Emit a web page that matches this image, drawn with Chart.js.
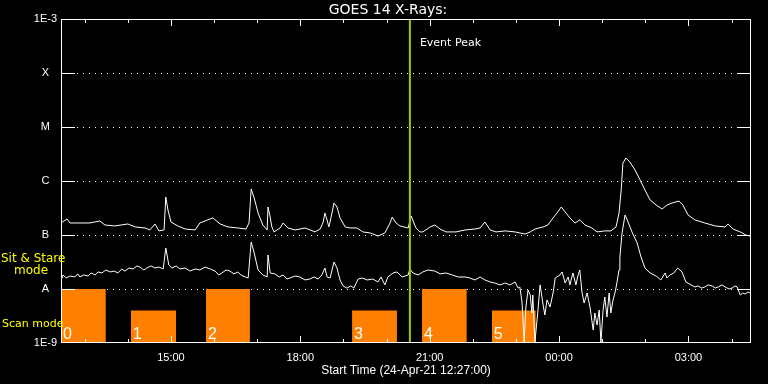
<!DOCTYPE html>
<html>
<head>
<meta charset="utf-8">
<title>GOES 14 X-Rays</title>
<script src="https://cdn.jsdelivr.net/npm/chart.js@4.4.1/dist/chart.umd.min.js"></script>
<style>
  html, body { margin: 0; padding: 0; background: #000; }
  canvas { display: block; }
</style>
</head>
<body>
<canvas id="goesChart" width="768" height="384"></canvas>
<script>
// times are hours since 24-Apr-21 00:00 (past 24 = next day), flux in W/m^2

// long channel (1-8 A), upper curve
const longTimes = [12.45, 12.59, 12.66, 12.89, 13.12, 13.35, 13.47, 13.70, 14.00, 14.17, 14.40, 14.51, 14.63, 14.72, 14.84, 14.88, 14.93, 15.00, 15.16, 15.33, 15.56, 15.67, 15.79, 15.97, 16.14, 16.32, 16.55, 16.74, 16.81, 16.86, 16.93, 17.02, 17.13, 17.23, 17.25, 17.30, 17.34, 17.39, 17.53, 17.60, 17.71, 17.88, 18.11, 18.34, 18.46, 18.53, 18.57, 18.62, 18.66, 18.71, 18.78, 18.85, 18.92, 19.04, 19.15, 19.31, 19.45, 19.62, 19.80, 19.96, 20.08, 20.13, 20.22, 20.31, 20.50, 20.57, 20.68, 20.77, 20.84, 21.01, 21.12, 21.24, 21.38, 21.61, 21.82, 22.05, 22.17, 22.28, 22.40, 22.54, 22.75, 22.98, 23.21, 23.33, 23.44, 23.63, 23.74, 23.86, 23.95, 24.05, 24.14, 24.25, 24.37, 24.48, 24.60, 24.76, 24.88, 25.06, 25.20, 25.32, 25.39, 25.44, 25.48, 25.55, 25.64, 25.76, 25.88, 25.99, 26.11, 26.25, 26.39, 26.50, 26.62, 26.78, 26.87, 26.99, 27.15, 27.38, 27.62, 27.85, 27.92, 28.03, 28.20, 28.33, 28.43];
const longFlux = [1.67e-7, 1.98e-7, 1.67e-7, 1.67e-7, 1.67e-7, 1.82e-7, 1.53e-7, 1.47e-7, 1.60e-7, 1.41e-7, 1.35e-7, 1.24e-7, 1.60e-7, 1.19e-7, 1.24e-7, 5.05e-7, 2.90e-7, 1.74e-7, 1.47e-7, 1.29e-7, 1.24e-7, 1.67e-7, 1.82e-7, 2.07e-7, 1.60e-7, 1.41e-7, 1.35e-7, 1.29e-7, 1.67e-7, 7.11e-7, 4.84e-7, 2.55e-7, 1.53e-7, 1.24e-7, 3.30e-7, 2.15e-7, 1.41e-7, 1.14e-7, 1.35e-7, 1.67e-7, 1.35e-7, 1.24e-7, 1.35e-7, 1.14e-7, 1.29e-7, 1.74e-7, 2.55e-7, 1.90e-7, 1.41e-7, 2.07e-7, 3.91e-7, 3.30e-7, 2.07e-7, 1.41e-7, 1.35e-7, 1.35e-7, 1.14e-7, 1.09e-7, 9.57e-8, 1.09e-7, 1.67e-7, 2.15e-7, 1.67e-7, 1.47e-7, 1.35e-7, 2.25e-7, 1.35e-7, 1.14e-7, 1.14e-7, 1.41e-7, 1.53e-7, 1.29e-7, 1.14e-7, 1.14e-7, 1.24e-7, 1.29e-7, 1.35e-7, 1.74e-7, 1.24e-7, 1.14e-7, 1.19e-7, 1.14e-7, 1.04e-7, 1.14e-7, 1.29e-7, 1.41e-7, 1.53e-7, 2.07e-7, 2.55e-7, 3.30e-7, 2.67e-7, 2.07e-7, 1.67e-7, 1.90e-7, 1.53e-7, 1.35e-7, 1.14e-7, 1.19e-7, 1.19e-7, 1.41e-7, 2.55e-7, 6.81e-7, 2.15e-6, 2.67e-6, 2.25e-6, 1.60e-6, 1.04e-6, 6.81e-7, 4.45e-7, 3.59e-7, 3.03e-7, 3.59e-7, 3.91e-7, 4.26e-7, 3.59e-7, 2.35e-7, 1.90e-7, 1.67e-7, 1.47e-7, 1.41e-7, 1.60e-7, 1.29e-7, 1.14e-7, 1.00e-7, 9.57e-8];

// short channel (0.5-4 A), lower curve
const shortTimes = [12.45, 12.50, 12.57, 12.66, 12.77, 12.84, 12.89, 12.98, 13.08, 13.15, 13.24, 13.31, 13.40, 13.49, 13.59, 13.68, 13.77, 13.86, 13.93, 14.03, 14.12, 14.21, 14.28, 14.37, 14.44, 14.54, 14.63, 14.72, 14.82, 14.88, 14.95, 15.02, 15.12, 15.21, 15.33, 15.44, 15.56, 15.67, 15.79, 15.91, 16.02, 16.11, 16.18, 16.28, 16.37, 16.46, 16.55, 16.62, 16.72, 16.79, 16.86, 16.93, 17.02, 17.13, 17.23, 17.25, 17.30, 17.41, 17.51, 17.60, 17.69, 17.76, 17.88, 17.99, 18.11, 18.22, 18.32, 18.41, 18.50, 18.57, 18.62, 18.69, 18.78, 18.85, 18.92, 18.99, 19.08, 19.17, 19.24, 19.34, 19.43, 19.55, 19.68, 19.80, 19.87, 19.96, 20.03, 20.15, 20.24, 20.36, 20.50, 20.54, 20.61, 20.73, 20.84, 20.96, 21.12, 21.24, 21.38, 21.52, 21.66, 21.82, 21.93, 22.05, 22.17, 22.28, 22.40, 22.51, 22.63, 22.75, 22.86, 22.98, 23.05, 23.09, 23.14, 23.19, 23.23, 23.28, 23.33, 23.37, 23.39, 23.44, 23.51, 23.56, 23.63, 23.67, 23.72, 23.79, 23.86, 23.91, 24.02, 24.07, 24.14, 24.21, 24.25, 24.32, 24.39, 24.44, 24.48, 24.53, 24.58, 24.65, 24.72, 24.79, 24.83, 24.88, 24.93, 24.97, 25.02, 25.06, 25.11, 25.16, 25.20, 25.25, 25.30, 25.34, 25.39, 25.41, 25.46, 25.53, 25.60, 25.69, 25.81, 25.90, 25.99, 26.11, 26.25, 26.36, 26.46, 26.50, 26.57, 26.66, 26.75, 26.85, 26.94, 27.06, 27.15, 27.22, 27.31, 27.38, 27.45, 27.55, 27.62, 27.69, 27.78, 27.85, 27.94, 28.01, 28.08, 28.13, 28.20, 28.26, 28.31, 28.38, 28.43];
const shortFlux = [1.47e-8, 1.82e-8, 1.60e-8, 1.74e-8, 1.67e-8, 1.90e-8, 1.67e-8, 1.82e-8, 1.74e-8, 1.98e-8, 1.82e-8, 2.07e-8, 1.98e-8, 2.25e-8, 2.07e-8, 2.15e-8, 1.98e-8, 2.35e-8, 2.15e-8, 2.45e-8, 2.35e-8, 2.67e-8, 2.55e-8, 2.25e-8, 2.45e-8, 2.67e-8, 2.45e-8, 2.55e-8, 2.35e-8, 5.74e-8, 2.78e-8, 2.45e-8, 2.67e-8, 2.35e-8, 2.45e-8, 2.15e-8, 2.35e-8, 2.25e-8, 2.55e-8, 2.35e-8, 2.15e-8, 1.82e-8, 1.98e-8, 2.25e-8, 2.15e-8, 1.90e-8, 2.07e-8, 1.82e-8, 1.67e-8, 1.60e-8, 7.41e-8, 4.64e-8, 2.25e-8, 1.82e-8, 1.67e-8, 4.26e-8, 1.98e-8, 1.90e-8, 1.67e-8, 1.82e-8, 1.53e-8, 1.60e-8, 1.74e-8, 1.67e-8, 1.47e-8, 1.53e-8, 1.67e-8, 1.53e-8, 1.82e-8, 2.45e-8, 1.67e-8, 1.60e-8, 3.16e-8, 2.45e-8, 1.47e-8, 1.14e-8, 1.04e-8, 1.14e-8, 1.04e-8, 1.53e-8, 1.60e-8, 1.47e-8, 1.53e-8, 1.35e-8, 1.67e-8, 1.19e-8, 1.67e-8, 1.98e-8, 2.07e-8, 1.67e-8, 1.82e-8, 2.35e-8, 1.98e-8, 1.82e-8, 2.07e-8, 2.25e-8, 2.15e-8, 1.90e-8, 1.98e-8, 1.82e-8, 1.67e-8, 1.67e-8, 1.60e-8, 1.47e-8, 1.67e-8, 1.47e-8, 1.35e-8, 1.29e-8, 1.19e-8, 1.29e-8, 1.19e-8, 1.35e-8, 1.04e-8, 1.09e-8, 5.74e-9, 1.04e-9, 4.64e-9, 9.57e-9, 7.74e-9, 3.59e-9, 7.74e-9, 1.04e-9, 4.08e-9, 1.19e-8, 5.05e-9, 3.30e-9, 6.26e-9, 4.64e-9, 8.43e-9, 1.60e-8, 1.82e-8, 2.07e-8, 1.29e-8, 1.67e-8, 1.19e-8, 1.98e-8, 1.19e-8, 1.82e-8, 2.25e-8, 8.80e-9, 5.50e-9, 8.43e-9, 4.45e-9, 1.74e-9, 3.59e-9, 2.15e-9, 4.08e-9, 1.04e-9, 4.08e-9, 7.11e-9, 3.03e-9, 8.43e-9, 3.59e-9, 6.26e-9, 8.80e-9, 1.29e-8, 2.25e-8, 3.91e-8, 1.09e-7, 2.35e-7, 1.74e-7, 1.14e-7, 7.11e-8, 3.91e-8, 2.45e-8, 1.98e-8, 1.74e-8, 1.47e-8, 1.98e-8, 1.60e-8, 1.82e-8, 1.98e-8, 2.45e-8, 2.07e-8, 1.35e-8, 1.19e-8, 1.09e-8, 1.14e-8, 1.04e-8, 1.09e-8, 1.19e-8, 1.14e-8, 1.04e-8, 1.09e-8, 1.19e-8, 1.09e-8, 1.00e-8, 1.04e-8, 1.14e-8, 1.09e-8, 7.74e-9, 8.43e-9, 8.08e-9, 8.80e-9, 8.43e-9];

// scan mode blocks (orange), numbered 0..5
const scanStart = [12.45, 14.07, 15.81, 19.20, 20.82, 22.44];
const scanEnd = [13.49, 15.12, 16.83, 20.24, 21.86, 23.46];
const scanLevel = [1e-8, 4e-9, 1e-8, 4e-9, 1e-8, 4e-9];
const scanLabels = ['0', '1', '2', '3', '4', '5'];

const eventPeak = 20.54;
const startHour = 12.45;
const endHour = 28.45;

const yTickValues = [1e-9, 1e-8, 1e-7, 1e-6, 1e-5, 1e-4, 1e-3];
const yTickLabels = ['1E-9', 'A', 'B', 'C', 'M', 'X', '1E-3'];
const xTickHours = [15, 18, 21, 24, 27];
const xTickLabels = ['15:00', '18:00', '21:00', '00:00', '03:00'];
const hourMarks = [13, 14, 15, 16, 17, 18, 19, 20, 21, 22, 23, 24, 25, 26, 27, 28];

const ORANGE = '#ff8000';
const PEAK_GREEN = '#9acd00';

const toPoints = (xs, ys) => xs.map((x, i) => ({ x: x, y: ys[i] }));

// IDL style frame, inward ticks, dotted flare-class lines and the labels
const goesFrame = {
	id: 'goesFrame',
	beforeDraw(chart) {
		const ctx = chart.ctx;
		ctx.save();
		ctx.fillStyle = '#000';
		ctx.fillRect(0, 0, chart.width, chart.height);
		ctx.restore();
	},
	beforeDatasetsDraw(chart) {
		const { ctx, chartArea: a } = chart;
		const yScale = chart.scales.y;
		ctx.save();
		ctx.fillStyle = '#fff';
		yTickValues.slice(1, -1).forEach(v => {
			const y = Math.round(yScale.getPixelForValue(v));
			for (let x = a.left + 16; x < a.right - 14; x += 6) ctx.fillRect(x, y, 1, 1);
		});
		ctx.restore();
	},
	afterDatasetsDraw(chart) {
		const { ctx, chartArea: a } = chart;
		const xScale = chart.scales.x;
		const yScale = chart.scales.y;
		ctx.save();
		ctx.fillStyle = '#fff';
		// box
		ctx.fillRect(a.left, a.top, a.right - a.left, 1);
		ctx.fillRect(a.left, a.bottom - 1, a.right - a.left, 1);
		ctx.fillRect(a.left, a.top, 1, a.bottom - a.top);
		ctx.fillRect(a.right - 1, a.top, 1, a.bottom - a.top);
		// flare class ticks on both sides
		yTickValues.slice(1, -1).forEach(v => {
			const y = Math.round(yScale.getPixelForValue(v));
			ctx.fillRect(a.left, y, 14, 1);
			ctx.fillRect(a.right - 14, y, 14, 1);
		});
		// hour ticks, top and bottom
		hourMarks.forEach(h => {
			const x = Math.round(xScale.getPixelForValue(h));
			const len = h % 3 === 0 ? 7 : 4;
			ctx.fillRect(x, a.top, 1, len);
			ctx.fillRect(x, a.bottom - len, 1, len);
		});

		// block numbers
		ctx.font = '16px "Liberation Sans"';
		ctx.textAlign = 'left';
		ctx.textBaseline = 'alphabetic';
		scanLabels.forEach((s, i) => {
			ctx.fillText(s, xScale.getPixelForValue(scanStart[i]) + 2, a.bottom - 4);
		});

		ctx.font = '11px "DejaVu Sans"';
		ctx.textBaseline = 'middle';
		ctx.fillText('Event Peak', xScale.getPixelForValue(eventPeak) + 10, a.top + 24);

		ctx.textAlign = 'center';
		ctx.font = '14px "DejaVu Sans"';
		ctx.fillText('GOES 14 X-Rays:', 388, 10);

		ctx.fillStyle = '#ffff00';
		ctx.font = '12px "DejaVu Sans"';
		ctx.textAlign = 'left';
		ctx.fillText('Sit & Stare', 1, 259);
		ctx.textAlign = 'center';
		ctx.fillText('mode', 31, 271);
		ctx.textAlign = 'left';
		ctx.font = '11px "DejaVu Sans"';
		ctx.fillText('Scan mode', 2, 324);
		ctx.restore();
	}
};

const datasets = [
	{
		data: [{ x: eventPeak, y: yTickValues[0] }, { x: eventPeak, y: yTickValues[yTickValues.length - 1] }],
		borderColor: PEAK_GREEN, borderWidth: 2, pointRadius: 0, order: 0
	},
	{ data: toPoints(longTimes, longFlux), borderColor: '#fff', borderWidth: 1, pointRadius: 0, order: 1 },
	{ data: toPoints(shortTimes, shortFlux), borderColor: '#fff', borderWidth: 1, pointRadius: 0, order: 1 }
];
scanStart.forEach((s, i) => {
	datasets.push({
		data: [{ x: s, y: scanLevel[i] }, { x: scanEnd[i], y: scanLevel[i] }],
		borderColor: 'rgba(0,0,0,0)', borderWidth: 1, pointRadius: 0,
		backgroundColor: ORANGE, fill: 'start', order: 3
	});
});

new Chart(document.getElementById('goesChart'), {
	type: 'line',
	data: { datasets },
	options: {
		responsive: false,
		animation: false,
		devicePixelRatio: 1,
		layout: { padding: { top: 19, right: 17, left: 0, bottom: 0 } },
		plugins: {
			legend: { display: false },
			tooltip: { enabled: false },
			title: { display: false }
		},
		scales: {
			x: {
				type: 'linear',
				min: startHour,
				max: endHour,
				grid: { display: false, drawTicks: false },
				border: { display: false },
				afterBuildTicks: scale => { scale.ticks = xTickHours.map(v => ({ value: v })); },
				afterFit: scale => { scale.height = 41; },
				ticks: {
					color: '#fff',
					padding: 8,
					maxRotation: 0,
					font: { family: 'Liberation Sans', size: 11 },
					callback: (v) => xTickLabels[xTickHours.indexOf(v)]
				},
				title: {
					display: true,
					text: 'Start Time (24-Apr-21 12:27:00)',
					color: '#fff',
					font: { family: 'Liberation Sans', size: 12, lineHeight: 1.5 },
					padding: { top: 0, bottom: 4 }
				}
			},
			y: {
				type: 'logarithmic',
				min: yTickValues[0],
				max: yTickValues[yTickValues.length - 1],
				grid: { display: false, drawTicks: false },
				border: { display: false },
				afterBuildTicks: scale => { scale.ticks = yTickValues.map(v => ({ value: v })); },
				afterFit: scale => { scale.width = 61; },
				ticks: {
					color: '#fff',
					padding: 4,
					crossAlign: 'center',
					font: { family: 'Liberation Sans', size: 11 },
					callback: (v) => yTickLabels[yTickValues.indexOf(v)]
				}
			}
		}
	},
	plugins: [goesFrame]
});
</script>
</body>
</html>
